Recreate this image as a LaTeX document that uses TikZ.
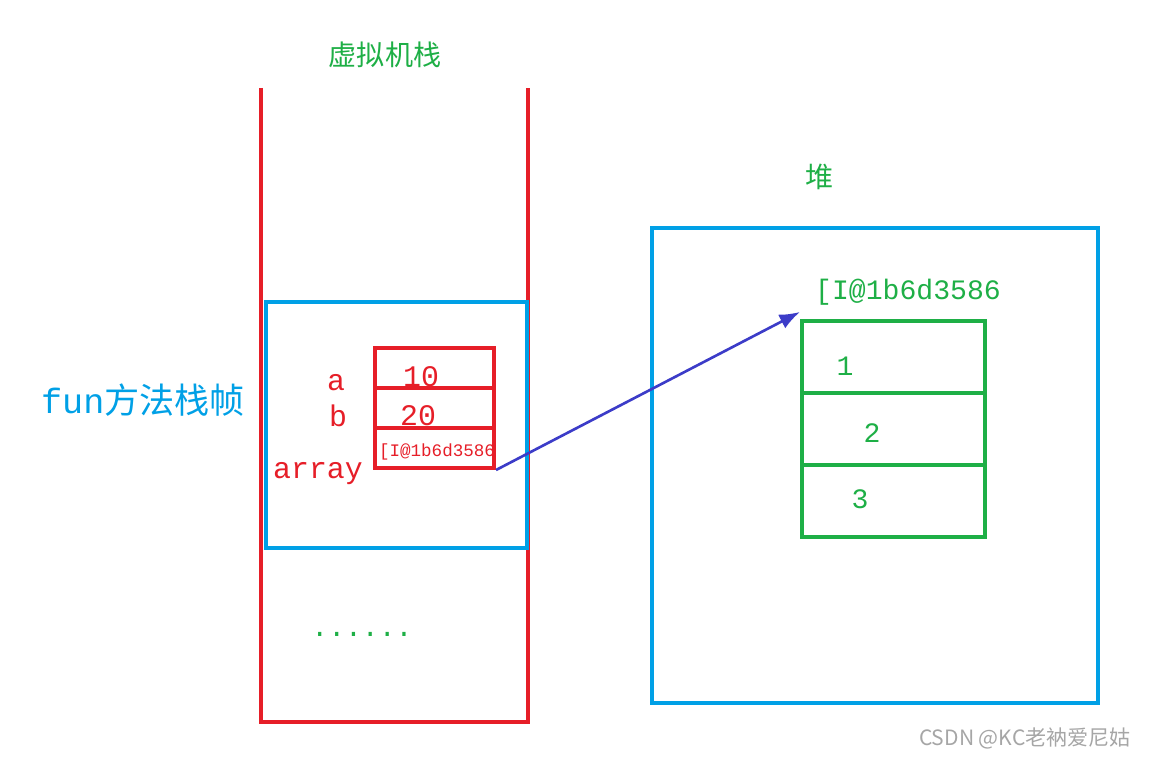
\documentclass[tikz,border=0pt]{standalone}
\usepackage{fontspec}
\setmainfont{Liberation Mono}
\newfontfamily\cjk{Noto Sans CJK SC}
\usetikzlibrary{positioning,arrows.meta,calc}
\definecolor{stackred}{RGB}{230,30,40}
\definecolor{frameblue}{RGB}{0,160,230}
\definecolor{heapgreen}{RGB}{30,175,70}
\definecolor{ptrblue}{RGB}{60,60,200}
\tikzset{>={Latex[scale=1.2]},
  slot/.style={draw=stackred, line width=2.3pt, minimum width=2.38cm, minimum height=0.8cm, inner sep=0pt},
  cell/.style={draw=heapgreen, line width=2.3pt, minimum width=3.66cm, minimum height=1.44cm, inner sep=0pt},
  gtext/.style={text=heapgreen, font=\fontsize{16}{18}\selectfont},
  rtext/.style={text=stackred, font=\fontsize{17}{19}\selectfont}}

\begin{document}
\begin{tikzpicture}[x=0.02cm, y=-0.02cm]
      \useasboundingbox (0,0) rectangle (1153,759);
      % stack
      \draw[stackred, line width=2.3pt] (261,88) -- (261,722) -- (528,722) -- (528,88);
      \node[gtext] (stacklbl) at (385,55) {\cjk 虚拟机栈};
      \draw[frameblue, line width=2.3pt] (266,302) rectangle (527,548);
      \node[text=frameblue, font=\fontsize{20}{22}\selectfont] (framelbl) at (143,400) {fun\cjk 方法栈帧};
      \node[slot] (sa) at (434.5,368) {};
      \node[slot] (sb) at (434.5,408) {};
      \node[slot] (sarr) at (434.5,448) {};
      \node[rtext] at (421,377) {10};
      \node[rtext] at (418,416) {20};
      \node[text=stackred, font=\fontsize{10}{12}\selectfont] at (437,452) {[I@1b6d3586};
      \node[rtext] (la) at (336,383) {a};
      \node[rtext] (lb) at (338,416) {b};
      \node[rtext] (larr) at (318,474) {array};
      \node[gtext] (dots) at (362,634) {......};
      % heap
      \node[gtext] (heaplbl) at (820,177) {\cjk 堆};
      \draw[frameblue, line width=2.3pt] (652,228) rectangle (1098,703);
      \node[gtext] (addr) at (908,292) {[I@1b6d3586};
      \node[cell] (c1) at (893.5,357) {};
      \node[cell] (c2) at (893.5,429) {};
      \node[cell] (c3) at (893.5,501) {};
      \node[gtext] at (845,366) {1};
      \node[gtext] at (872,433) {2};
      \node[gtext] at (860,499) {3};
      \draw[->, ptrblue, line width=1.5pt] (sarr.south east) -- ([yshift=4]c1.north west);
      \node[text=gray!70, font=\cjk\fontsize{12}{14}\selectfont] (mark) at (1025,738) {CSDN @KC老衲爱尼姑};
\end{tikzpicture}
\end{document}
